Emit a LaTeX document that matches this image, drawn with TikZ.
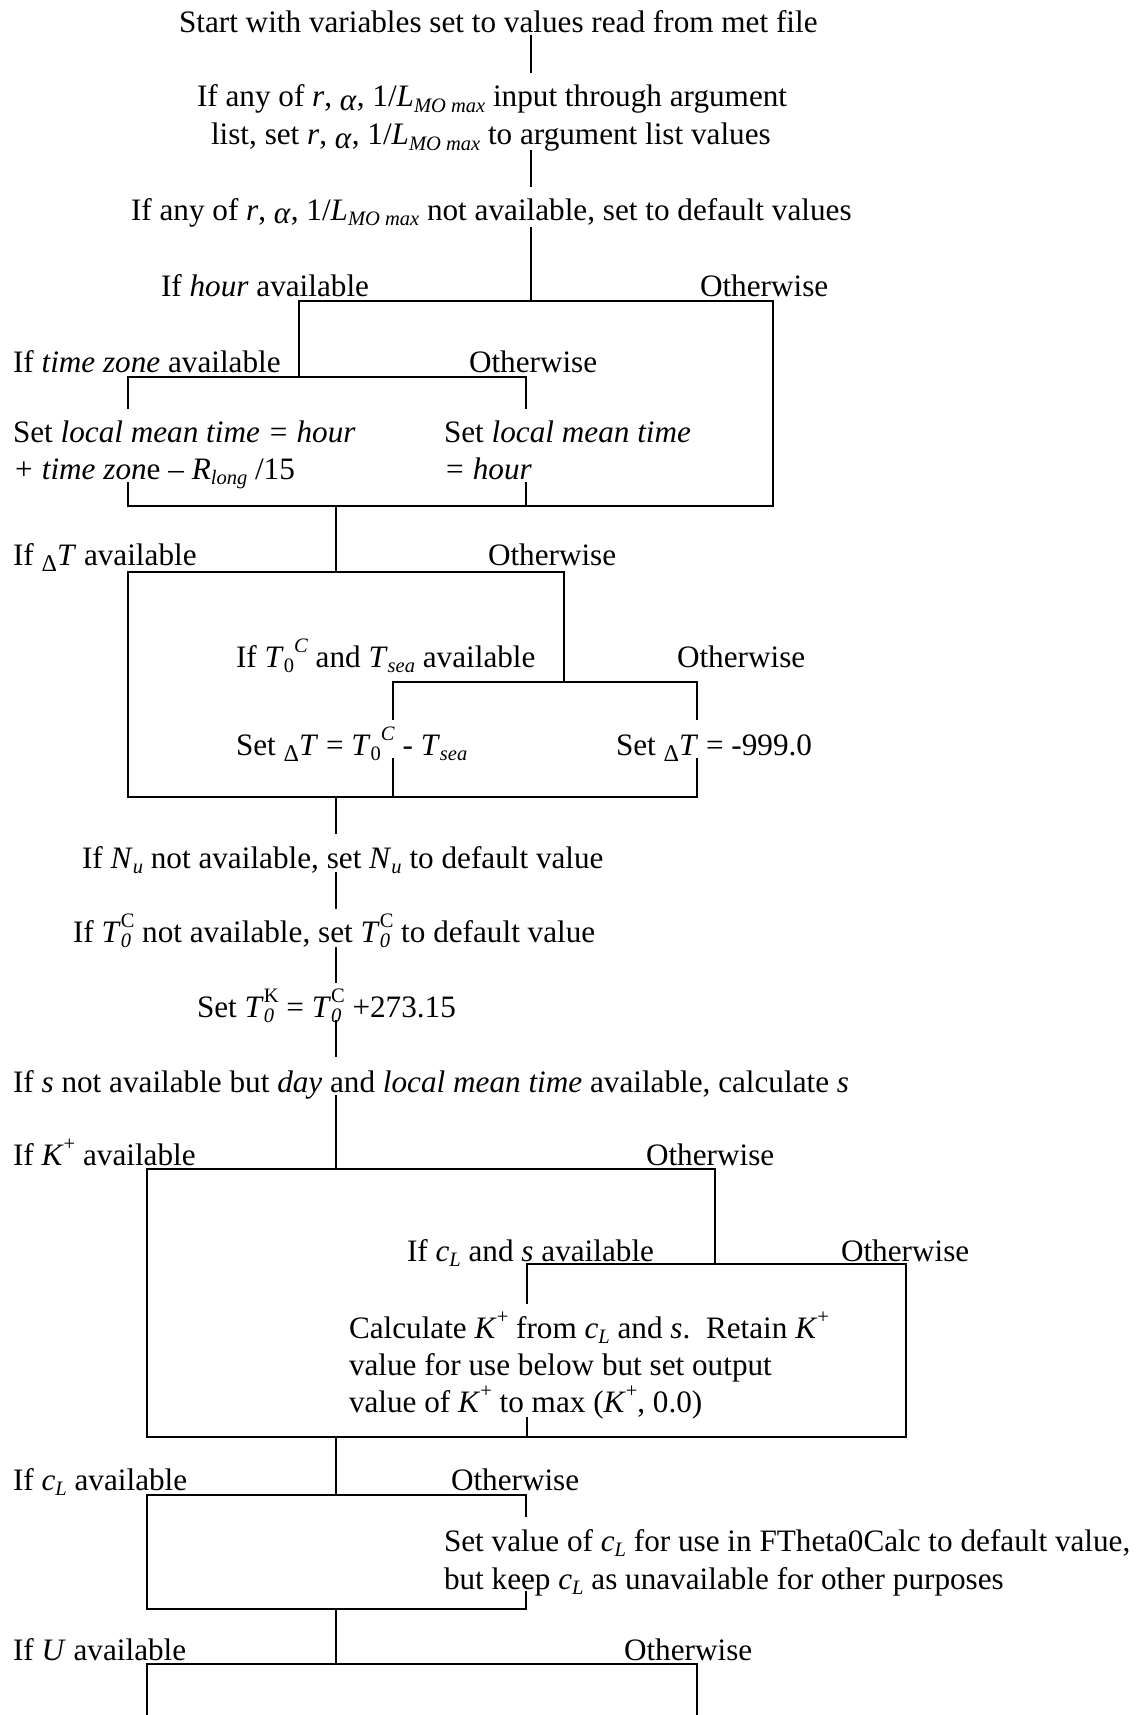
\documentclass[tikz,border=0pt]{standalone}
\usepackage{fontspec}
\setmainfont{Liberation Serif}
\newcommand\fs{\fontsize{31.2}{37}\selectfont}
\newcommand\mysb[1]{\raisebox{-0.17em}{\fontsize{20.5}{20.5}\selectfont #1}}
\newcommand\mysp[1]{\raisebox{0.45em}{\fontsize{20.5}{20.5}\selectfont #1}}
\newcommand\mysbsp[2]{\rlap{\mysb{#1}}\mysp{#2}}
\newcommand\alf{\raisebox{-0.12em}{\textit{α}}}
\newcommand\dlt{\raisebox{-0.2em}{\fontsize{24}{24}\selectfont Δ}}
\tikzset{
  lbl/.style={anchor=base west, inner sep=0pt, outer sep=0pt, font=\fs},
  conn/.style={line width=1.7pt},
  boxln/.style={line width=2.8pt, line cap=rect}
}
\begin{document}
\begin{tikzpicture}[x=1pt,y=-1pt]
\useasboundingbox[fill=white] (0,0) rectangle (1146,1715);
% texts
\node[lbl] (t1) at (179,33) {Start with variables set to values read from met file};
\node[lbl] (t2a) at (197,107) {If any of \textit{r},\ \alf, 1/\textit{L}\mysb{\textit{MO max}} input through argument};
\node[lbl] (t2b) at (211,145) {list, set \textit{r},\ \alf, 1/\textit{L}\mysb{\textit{MO max}} to argument list values};
\node[lbl] (t3) at (131,220) {If any of \textit{r},\ \alf, 1/\textit{L}\mysb{\textit{MO max}} not available, set to default values};
\node[lbl] (t4y) at (161,296) {If \textit{hour} available};
\node[lbl] (t4n) at (700,296) {Otherwise};
\node[lbl] (t5y) at (13,372) {If \textit{time zone} available};
\node[lbl] (t5n) at (469,372) {Otherwise};
\node[lbl] (t6a) at (13,442) {Set \textit{local mean time = hour}};
\node[lbl] (t6b) at (13,479) {\textit{+ time zon}e – \textit{R}\mysb{\textit{long}} /15};
\node[lbl] (t6c) at (444,442) {Set \textit{local mean time}};
\node[lbl] (t6d) at (444,479) {\textit{= hour}};
\node[lbl] (t7y) at (13,565) {If \dlt\textit{T} available};
\node[lbl] (t7n) at (488,565) {Otherwise};
\node[lbl] (t8y) at (236,667) {If \textit{T}\mysb{0}\mysp{\textit{C}} and \textit{T}\mysb{\textit{sea}} available};
\node[lbl] (t8n) at (677,667) {Otherwise};
\node[lbl] (t9a) at (236,755) {Set \dlt\textit{T} = \textit{T}\mysb{0}\mysp{\textit{C}} - \textit{T}\mysb{\textit{sea}}};
\node[lbl] (t9b) at (616,755) {Set \dlt\textit{T} = -999.0};
\node[lbl] (t10) at (82,868) {If \textit{N}\mysb{\textit{u}} not available, set \textit{N}\mysb{\textit{u}} to default value};
\node[lbl] (t11) at (73,942) {If \textit{T}\mysbsp{\textit{0}}{C} not available, set \textit{T}\mysbsp{\textit{0}}{C} to default value};
\node[lbl] (t12) at (197,1017) {Set \textit{T}\mysbsp{\textit{0}}{K} = \textit{T}\mysbsp{\textit{0}}{C} +273.15};
\node[lbl] (t13) at (13,1092) {If \textit{s} not available but \textit{day} and \textit{local mean time} available, calculate \textit{s}};
\node[lbl] (t14y) at (13,1165) {If \textit{K}\mysp{+} available};
\node[lbl] (t14n) at (646,1165) {Otherwise};
\node[lbl] (t15y) at (407,1261) {If \textit{c}\mysb{\textit{L}} and \textit{s} available};
\node[lbl] (t15n) at (841,1261) {Otherwise};
\node[lbl] (t16a) at (349,1338) {Calculate \textit{K}\mysp{+} from \textit{c}\mysb{\textit{L}} and \textit{s}.\ \ Retain \textit{K}\mysp{+}};
\node[lbl] (t16b) at (349,1375) {value for use below but set output};
\node[lbl] (t16c) at (349,1412) {value of \textit{K}\mysp{+} to max (\textit{K}\mysp{+}, 0.0)};
\node[lbl] (t17y) at (13,1490) {If \textit{c}\mysb{\textit{L}} available};
\node[lbl] (t17n) at (451,1490) {Otherwise};
\node[lbl] (t18a) at (444,1551) {Set value of \textit{c}\mysb{\textit{L}} for use in FTheta0Calc to default value,};
\node[lbl] (t18b) at (444,1589) {but keep \textit{c}\mysb{\textit{L}} as unavailable for other purposes};
\node[lbl] (t19y) at (13,1660) {If \textit{U} available};
\node[lbl] (t19n) at (624,1660) {Otherwise};
% top connectors
\draw[conn] (531,35) -- (531,73);
\draw[conn] (531,150) -- (531,187);
\draw[conn] (531,227) -- (531,301);
% box A (hour)
\draw[boxln] (299,377) -- (299,301) -- (773,301) -- (773,506) -- (128,506);
\draw[boxln] (128,408) -- (128,377) -- (526,377) -- (526,408);
\draw[boxln] (128,483) -- (128,506);
\draw[boxln] (526,483) -- (526,506);
\draw[conn] (336,506) -- (336,572);
% box B (Delta T)
\draw[boxln] (564,682) -- (564,572) -- (128,572) -- (128,797) -- (697,797);
\draw[boxln] (393,719) -- (393,682) -- (697,682) -- (697,719);
\draw[boxln] (393,759) -- (393,797);
\draw[boxln] (697,759) -- (697,797);
% middle connectors
\draw[conn] (336,797) -- (336,834);
\draw[conn] (336,872) -- (336,909);
\draw[conn] (336,947) -- (336,983);
\draw[conn] (336,1020) -- (336,1057);
\draw[conn] (336,1095) -- (336,1169);
% box C (K+)
\draw[boxln] (715,1264) -- (715,1169) -- (147,1169) -- (147,1437) -- (906,1437) -- (906,1264) -- (527,1264) -- (527,1303);
\draw[boxln] (527,1418) -- (527,1437);
\draw[conn] (336,1437) -- (336,1495);
% box D (cL)
\draw[boxln] (526,1516) -- (526,1495) -- (147,1495) -- (147,1609) -- (526,1609) -- (526,1592);
\draw[conn] (336,1609) -- (336,1664);
% box E (U)
\draw[boxln] (147,1715) -- (147,1664) -- (697,1664) -- (697,1715);
\end{tikzpicture}
\end{document}
